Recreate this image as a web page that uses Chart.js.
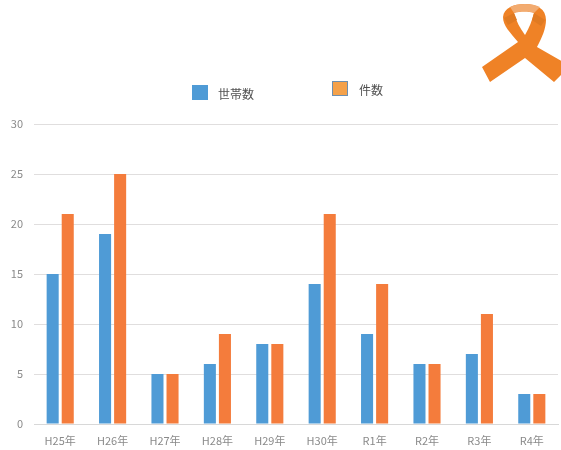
<!DOCTYPE html>
<html>
<head>
<meta charset="utf-8">
<script src="https://cdn.jsdelivr.net/npm/chart.js@4/dist/chart.umd.min.js"></script>
<style>
  html, body { margin: 0; padding: 0; background: #fff; }
  /* the reference is a soft scan, so everything gets a light blur */
  #wrap { position: relative; width: 561px; height: 450px; overflow: hidden; font-family: "Noto Sans CJK JP", sans-serif; filter: blur(0.5px); }
  canvas { position: absolute; left: 0; top: 0; }
  .swatch { position: absolute; width: 16px; height: 15px; box-sizing: border-box; }
  .legendText { position: absolute; font-size: 12px; line-height: 14px; color: #505050; }
  #ribbon { position: absolute; left: 470px; top: 0; }
</style>
</head>
<body>
<div id="wrap">
  <canvas id="chart" width="561" height="450"></canvas>
  <div class="swatch" style="left:192px;top:85px;background:#4f9bd6"></div>
  <div class="legendText" style="left:218px;top:87px">世帯数</div>
  <div class="swatch" style="left:332px;top:81px;background:#f4a14a;border:1px solid #6d8fb0"></div>
  <div class="legendText" style="left:359px;top:83px">件数</div>
  <svg id="ribbon" width="91" height="90" viewBox="470 0 91 90">
    <path d="M525 4 C537 4 546 9 546 20 C546 28 542 38 537 47 L565 63 L565 71 L554 82 L525 58 L490 82 L482 67 L518 42 C510 32 503 26 503 17 C504 8 513 4 525 4 Z" fill="#ef8226"/>
    <path d="M514 13 C520 11 529 11 534 13 C532 21 529 28 525 35 C520 28 516 21 514 13 Z" fill="#fff"/>
    <path d="M510 7 C514 5 519 4 525 4 C531 4 536 5 540 7 L534 13 C529 11 520 11 514 13 Z" fill="#f2ab70"/>
    <path d="M504 18 L514 13 L517 20 L508 25 Z" fill="#e07a22"/>
    <path d="M545 20 L534 13 L532 20 L541 26 Z" fill="#e07a22"/>
  </svg>
</div>
<script>
const categories = ["H25年", "H26年", "H27年", "H28年", "H29年", "H30年", "R1年", "R2年", "R3年", "R4年"];
const households = [15, 19, 5, 6, 8, 14, 9, 6, 7, 3];
const cases = [21, 25, 5, 9, 8, 21, 14, 6, 11, 3];

const tickFont = { family: '"Noto Sans CJK JP", sans-serif', size: 11 };

let data = {
  labels: categories,
  datasets: [
    { label: "世帯数", data: households, backgroundColor: "#4f9bd6", barPercentage: 0.8, categoryPercentage: 0.575 },
    { label: "件数", data: cases, backgroundColor: "#f47c3c", barPercentage: 0.8, categoryPercentage: 0.575 }
  ]
};

let config = {
  type: "bar",
  data: data,
  options: {
    responsive: false,
    animation: false,
    layout: { padding: { top: 124, right: 3, bottom: 0, left: 0 } },
    plugins: { legend: { display: false }, tooltip: { enabled: false } },
    scales: {
      x: {
        grid: { display: false },
        border: { color: "#d8d8d8" },
        ticks: { color: "#8a8a8a", font: tickFont, padding: 2, maxRotation: 0 },
        afterFit: function(scale) { scale.height = 26; }
      },
      y: {
        min: 0,
        max: 30,
        grid: { color: "#e0dede", drawTicks: false },
        border: { display: false },
        ticks: { stepSize: 5, color: "#8a8a8a", font: tickFont, padding: 11 },
        afterFit: function(scale) { scale.width = 34; }
      }
    }
  }
};

new Chart(document.getElementById("chart"), config);
</script>
</body>
</html>
